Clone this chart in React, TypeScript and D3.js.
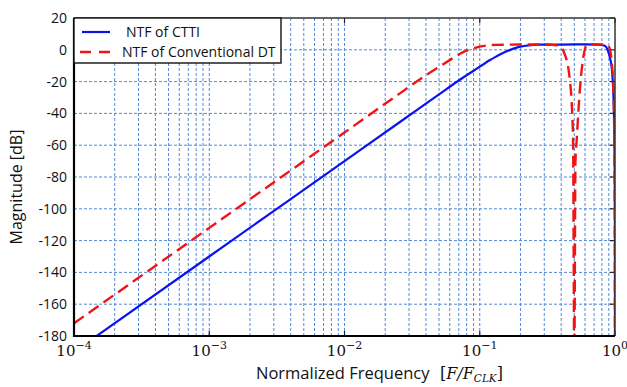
import { useEffect, useRef } from 'react';
import * as d3 from 'd3';

// NTF of CTTI (blue, solid) — normalized frequency vs magnitude [dB]
const cttiFreq = [1.3e-4, 1e-3, 1e-2, 0.0257, 0.05, 0.07, 0.08, 0.09, 0.1, 0.11, 0.12, 0.13, 0.141, 0.155, 0.17, 0.185, 0.2, 0.23, 0.27, 0.32, 0.4, 0.6, 0.75, 0.84, 0.89, 0.92, 0.945, 0.962, 0.975, 0.985, 0.993, 0.998, 1.0];
const cttiMag = [-183.2, -130, -70, -45.4, -28, -19.3, -16, -13.2, -10.6, -8.3, -6.3, -4.6, -3.0, -1.3, 0.1, 1.2, 2.0, 2.8, 3.2, 3.3, 3.3, 3.4, 3.3, 2.5, -1, -5.4, -11, -19, -30, -45, -70, -110, -200];

// NTF of conventional DT (red, dashed)
const dtFreq = [1e-4, 1e-3, 1e-2, 0.0257, 0.04, 0.0508, 0.06, 0.0715, 0.085, 0.1, 0.13, 0.2, 0.3, 0.37, 0.404, 0.43, 0.45, 0.465, 0.477, 0.49, 0.5, 0.51, 0.521, 0.537, 0.552, 0.568, 0.584, 0.6, 0.617, 0.65, 0.8, 0.88, 0.92, 0.95, 0.97, 0.985, 0.995, 1.0];
const dtMag = [-172, -112, -52, -27.4, -16, -10.4, -6.5, -2.5, 0.3, 2, 3.1, 3.3, 3.3, 2.8, 1, -4, -10.6, -20, -31.6, -58.6, -200, -70, -56.7, -38, -23.2, -12, -4.3, 0.5, 3.0, 3.4, 3.4, 2.8, 0, -10, -22, -45, -90, -200];

const yTicks = [-180, -160, -140, -120, -100, -80, -60, -40, -20, 0, 20];
const xDecades = [-4, -3, -2, -1, 0];

const legendLabels = ['NTF of CTTI', 'NTF of Conventional DT'];

export default function App() {
  const svgRef = useRef<SVGSVGElement>(null);
  const width = 627;
  const height = 387;

  useEffect(() => {
    if (!svgRef.current) return;
    const svg = d3.select(svgRef.current);
    svg.selectAll('*').remove();

    const margin = { top: 18, right: 12, bottom: 51, left: 74 };
    const innerWidth = width - margin.left - margin.right;
    const innerHeight = height - margin.top - margin.bottom;

    const x = d3.scaleLog().domain([1e-4, 1]).range([0, innerWidth]);
    const y = d3.scaleLinear().domain([-180, 20]).range([innerHeight, 0]);

    const g = svg.append('g').attr('transform', `translate(${margin.left},${margin.top})`);

    svg.append('defs').append('clipPath').attr('id', 'plot-clip')
      .append('rect').attr('width', innerWidth).attr('height', innerHeight);

    // grid
    const gridColor = '#5289d8';
    const minorX: number[] = [];
    xDecades.forEach(e => {
      for (let k = 1; k <= 9; k++) {
        const v = k * Math.pow(10, e);
        if (v > 1e-4 && v < 1) minorX.push(v);
      }
    });
    g.selectAll('.vgrid')
      .data(minorX)
      .enter().append('line')
      .attr('x1', d => x(d)).attr('x2', d => x(d))
      .attr('y1', 0).attr('y2', innerHeight)
      .attr('stroke', gridColor)
      .attr('stroke-width', 1)
      .attr('stroke-dasharray', '3,2');

    g.selectAll('.hgrid')
      .data(yTicks.filter(t => t > -180 && t < 20))
      .enter().append('line')
      .attr('x1', 0).attr('x2', innerWidth)
      .attr('y1', d => y(d)).attr('y2', d => y(d))
      .attr('stroke', gridColor)
      .attr('stroke-width', 1)
      .attr('stroke-dasharray', '3,2');

    // tick marks inside the box
    g.selectAll('.rtick')
      .data(yTicks)
      .enter().append('line')
      .attr('x1', innerWidth - 5).attr('x2', innerWidth)
      .attr('y1', d => y(d)).attr('y2', d => y(d))
      .attr('stroke', '#222').attr('stroke-width', 1.2);
    g.selectAll('.btick')
      .data(xDecades.map(e => Math.pow(10, e)))
      .enter().append('line')
      .attr('x1', d => x(d)).attr('x2', d => x(d))
      .attr('y1', innerHeight - 5).attr('y2', innerHeight)
      .attr('stroke', '#222').attr('stroke-width', 1.2);
    g.selectAll('.ttick')
      .data(xDecades.map(e => Math.pow(10, e)))
      .enter().append('line')
      .attr('x1', d => x(d)).attr('x2', d => x(d))
      .attr('y1', 0).attr('y2', 5)
      .attr('stroke', '#222').attr('stroke-width', 1.2);

    // curves
    const line = d3.line<[number, number]>()
      .x(d => x(d[0]))
      .y(d => y(d[1]))
      .curve(d3.curveMonotoneX);

    const plot = g.append('g').attr('clip-path', 'url(#plot-clip)');
    plot.append('path')
      .datum(cttiFreq.map((f, i) => [f, cttiMag[i]] as [number, number]))
      .attr('d', line)
      .attr('fill', 'none')
      .attr('stroke', '#0a14f0')
      .attr('stroke-width', 2.2);
    plot.append('path')
      .datum(dtFreq.map((f, i) => [f, dtMag[i]] as [number, number]))
      .attr('d', line)
      .attr('fill', 'none')
      .attr('stroke', '#f01414')
      .attr('stroke-width', 2.4)
      .attr('stroke-dasharray', '12,6');

    // box
    g.append('line').attr('x1', 0).attr('x2', innerWidth).attr('y1', 0).attr('y2', 0)
      .attr('stroke', '#333').attr('stroke-width', 1.5);
    g.append('line').attr('x1', innerWidth).attr('x2', innerWidth).attr('y1', 0).attr('y2', innerHeight)
      .attr('stroke', '#333').attr('stroke-width', 1.5);
    g.append('line').attr('x1', 0).attr('x2', 0).attr('y1', 0).attr('y2', innerHeight + 1)
      .attr('stroke', '#000').attr('stroke-width', 2.2);
    g.append('line').attr('x1', -1).attr('x2', innerWidth).attr('y1', innerHeight).attr('y2', innerHeight)
      .attr('stroke', '#000').attr('stroke-width', 2.2);

    // y tick labels
    g.selectAll('.ylabel')
      .data(yTicks)
      .enter().append('text')
      .attr('x', -7)
      .attr('y', d => y(d) + 5)
      .attr('text-anchor', 'end')
      .attr('font-family', 'Open Sans, sans-serif')
      .attr('font-size', '14px')
      .attr('fill', '#111')
      .text(d => String(d));

    // x tick labels 10^n
    const xl = g.selectAll('.xlabel')
      .data(xDecades)
      .enter().append('text')
      .attr('x', d => x(Math.pow(10, d)))
      .attr('y', innerHeight + 20)
      .attr('text-anchor', 'middle')
      .attr('font-family', 'DejaVu Serif, serif')
      .attr('font-size', '15px')
      .attr('fill', '#111');
    xl.append('tspan').text('10');
    xl.append('tspan')
      .attr('dy', -7)
      .attr('font-size', '11px')
      .text(d => (d === 0 ? '0' : '\u2212' + Math.abs(d)));

    // axis titles
    const xt = svg.append('text')
      .attr('x', 256)
      .attr('y', 379)
      .attr('font-size', '16.5px')
      .attr('fill', '#111')
      .attr('font-family', 'Open Sans, sans-serif');
    xt.append('tspan').text('Normalized Frequency');
    xt.append('tspan').attr('x', 440).attr('font-family', 'DejaVu Serif, serif').attr('font-size', '16px').text('[');
    xt.append('tspan').attr('font-family', 'DejaVu Serif, serif').attr('font-style', 'italic').attr('font-size', '16px').text('F/F');
    xt.append('tspan').attr('font-family', 'DejaVu Serif, serif').attr('font-style', 'italic').attr('font-size', '10.5px').attr('dy', 3).text('CLK');
    xt.append('tspan').attr('font-family', 'DejaVu Serif, serif').attr('font-size', '16px').attr('dy', -3).text(']');

    svg.append('text')
      .attr('transform', `translate(22,${margin.top + innerHeight / 2 + 10}) rotate(-90)`)
      .attr('text-anchor', 'middle')
      .attr('font-family', 'Open Sans, sans-serif')
      .attr('font-size', '16px')
      .attr('fill', '#111')
      .text('Magnitude [dB]');

    // legend
    const lg = g.append('g');
    lg.append('rect')
      .attr('x', 0).attr('y', 0)
      .attr('width', 207).attr('height', 45)
      .attr('fill', '#fff')
      .attr('stroke', '#111')
      .attr('stroke-width', 1.4);
    lg.append('line')
      .attr('x1', 8).attr('x2', 36).attr('y1', 14).attr('y2', 14)
      .attr('stroke', '#0a14f0').attr('stroke-width', 2.2);
    lg.append('line')
      .attr('x1', 6).attr('x2', 36).attr('y1', 34).attr('y2', 34)
      .attr('stroke', '#f01414').attr('stroke-width', 2.4).attr('stroke-dasharray', '11,8');
    lg.selectAll('.legtext')
      .data(legendLabels)
      .enter().append('text')
      .attr('x', (d, i) => (i === 0 ? 52 : 48))
      .attr('y', (d, i) => 19 + i * 20)
      .attr('font-family', 'Open Sans, sans-serif')
      .attr('font-size', '14px')
      .attr('fill', '#111')
      .text(d => d);
  }, []);

  return (
    <svg
      ref={svgRef}
      width={width}
      height={height}
      style={{ position: 'absolute', left: 0, top: 0, background: '#fff' }}
    />
  );
}
